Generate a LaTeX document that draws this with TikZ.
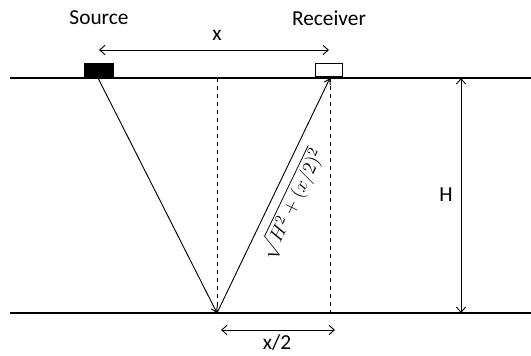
\documentclass[tikz,border=0pt]{standalone}
\usepackage{fontspec}
\setmainfont{Carlito}
\usepackage{amsmath}
\usetikzlibrary{positioning, calc, arrows.meta}

\begin{document}
\begin{tikzpicture}[
    x=0.75pt, y=-0.75pt,
    surface/.style={line width=0.9pt},
    guide/.style={dashed, line width=0.6pt},
    ray/.style={line width=0.7pt, -{Straight Barb[length=4pt, width=5pt]}},
    dimline/.style={line width=0.7pt, {Straight Barb[length=4pt, width=7pt]}-{Straight Barb[length=4pt, width=7pt]}},
    lbl/.style={inner sep=1pt, font=\fontsize{16}{18}\selectfont},
  ]
    \useasboundingbox (0,0) rectangle (531,356);

    % surface and reflector
    \draw[surface] (10,78) -- (531,78);
    \draw[surface] (10,313) -- (531,313);

    % source and receiver
    \node[draw, fill=black, minimum width=22pt, minimum height=11pt, inner sep=0pt, anchor=south] (SRC) at (98.5,78) {};
    \node[draw, line width=1.2pt, fill=white, minimum width=20pt, minimum height=10pt, inner sep=0pt, anchor=south] (REC) at (329,77.5) {};
    \node[lbl] (SRCLBL) at (99,18) {Source};
    \node[lbl] (RECLBL) at (329,18) {Receiver};

    % points
    \coordinate (S) at (98,78);
    \coordinate (R) at (330,78);
    \coordinate (M) at (217,313);
    \coordinate (MT) at (217,78);
    \coordinate (RB) at (330,313);

    % offset x
    \coordinate (XL) at (99,50);
    \coordinate (XR) at (329,50);
    \draw[dimline] (XL) -- (XR);
    \node[lbl] (XLBL) at (217,35) {x};

    % vertical guides
    \draw[guide] (MT) -- (M);
    \draw[guide] (R) -- (RB);

    % ray path
    \draw[ray] (S) -- (M);
    \draw[ray] (M) -- (R);
    \node[rotate=64.3, inner sep=1pt, font=\fontsize{15}{17}\selectfont] (PATH) at (292,204) {$\sqrt{H^2+(x/2)^2}$};

    % depth H
    \coordinate (HT) at (461,78);
    \coordinate (HB) at (461,313);
    \draw[dimline] (HT) -- (HB);
    \node[lbl] (HLBL) at (446,195) {H};

    % half offset
    \coordinate (HL) at (221,330);
    \coordinate (HR) at (335,330);
    \draw[dimline] (HL) -- (HR);
    \node[lbl] (HALF) at (277,343) {x/2};
  \end{tikzpicture}
\end{document}
